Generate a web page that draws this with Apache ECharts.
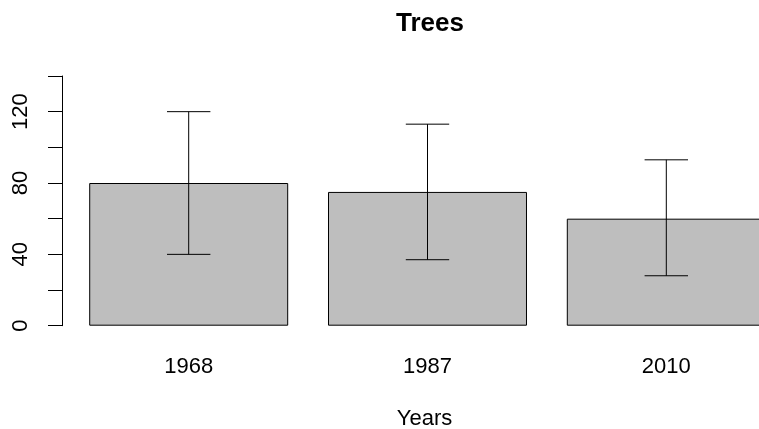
<!DOCTYPE html>
<html><head><meta charset="utf-8">
<script src="https://cdn.jsdelivr.net/npm/echarts@6/dist/echarts.min.js"></script>
<style>html,body{margin:0;padding:0;background:#fff}#c{width:759px;height:429px}</style>
</head><body><div id="c"></div>
<script>
const categories = ['1968', '1987', '2010'];
const means = [80, 75, 60];
const lower = [40, 37, 28];
const upper = [120, 113, 93];
const yTicks = [0, 40, 80, 120];

const FONT = 'Liberation Sans, Arial, sans-serif';
const chart = echarts.init(document.getElementById('c'));
chart.setOption({
  animation: false,
  backgroundColor: '#fff',
  title: {
    text: 'Trees', left: 425, top: 6, textAlign: 'center',
    textStyle: { fontFamily: FONT, fontSize: 26, fontWeight: 'bold', color: '#000' }
  },
  grid: { left: 69.3, right: -26.7, top: 76, bottom: 103.3, outerBoundsMode: 'none', containLabel: false },
  xAxis: {
    type: 'category', data: categories,
    axisLine: { show: false }, axisTick: { show: false }, splitLine: { show: false },
    axisLabel: { margin: 30, fontFamily: FONT, fontSize: 22, color: '#000' },
    name: 'Years', nameLocation: 'middle', nameGap: 82,
    nameTextStyle: { fontFamily: FONT, fontSize: 22, color: '#000', padding: [0, 6, 0, 0] }
  },
  yAxis: {
    type: 'value', min: 0, max: 140, interval: 20, offset: 7.3,
    axisLine: { show: true, lineStyle: { color: '#000', width: 1 } },
    axisTick: { show: true, length: 14, lineStyle: { color: '#000', width: 1 } },
    splitLine: { show: false },
    axisLabel: {
      rotate: 90, margin: 30, fontFamily: FONT, fontSize: 22, color: '#000',
      formatter: v => yTicks.includes(v) ? String(v) : ''
    }
  },
  series: [
    {
      type: 'bar', data: means, barWidth: '83.33%',
      itemStyle: { color: '#bebebe', borderColor: '#000', borderWidth: 1 }
    },
    {
      type: 'custom', z: 5,
      data: categories.map((c, i) => [i, lower[i], upper[i]]),
      renderItem: function (params, api) {
        const i = api.value(0);
        const lo = api.coord([i, api.value(1)]);
        const hi = api.coord([i, api.value(2)]);
        const hw = 21.7;
        const st = { stroke: '#000', lineWidth: 1 };
        return {
          type: 'group', children: [
            { type: 'line', shape: { x1: lo[0], y1: lo[1], x2: hi[0], y2: hi[1] }, style: st },
            { type: 'line', shape: { x1: hi[0] - hw, y1: hi[1], x2: hi[0] + hw, y2: hi[1] }, style: st },
            { type: 'line', shape: { x1: lo[0] - hw, y1: lo[1], x2: lo[0] + hw, y2: lo[1] }, style: st }
          ]
        };
      }
    }
  ]
});
</script></body></html>
